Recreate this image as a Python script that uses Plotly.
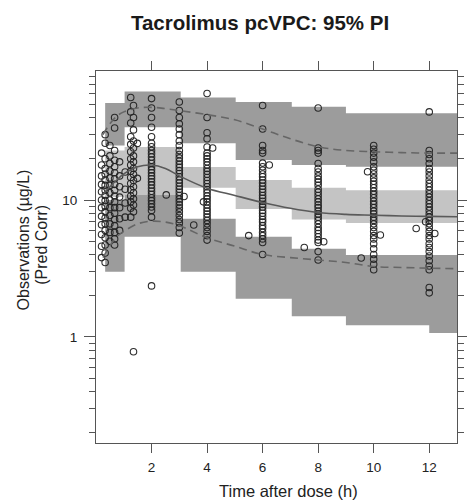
import plotly.graph_objects as go

# ---------------- data ----------------
# observations grouped by (jittered) sampling time
obs_t_020 = [22, 18, 15, 13, 11.5, 10, 8.8, 7.6, 6.6, 5.6, 4.6, 3.8]
obs_t_033 = [30, 26, 20, 17, 15.5, 14, 12.8, 11.8, 10.8, 9.9, 9, 8.2, 7.4, 6.7, 6, 5.3, 4.7, 4.1, 3.5]
obs_t_050 = [25, 21, 18.5, 16.3, 14.5, 12.8, 11.3, 10, 8.8, 7.7, 6.7, 5.8, 5]
obs_t_067 = [40, 33.6, 23, 19.5, 17.5, 15.8, 14.3, 13, 11.8, 10.7, 9.7, 8.8, 8, 7.2, 6.5, 5.8, 5.2, 4.7]
obs_t_085 = [19, 15, 12.5, 10.5, 8.8, 7.3, 6]
obs_t_105 = [16, 12, 9.5, 7.5]
obs_t_125 = [56, 44, 36.5, 29, 25.5, 22.5, 20, 18, 16.2, 14.6, 13.2, 11.9, 10.7, 9.7, 8.7, 7.5]
obs_t_135 = [49, 40, 32.5, 27, 24, 21, 19, 17, 15.4, 13.9, 12.5, 11.3, 10.2, 9.2, 8.2, 0.78]
obs_t_2 = [55, 47, 40, 34, 29, 26, 24.5, 23, 21.8, 20.6, 19.5, 18.5, 17.5, 16.6, 15.8, 15, 14.3,
           13.6, 12.9, 12.2, 11.6, 11, 10.4, 9.9, 9.4, 8.9, 8.4, 7.5, 2.36]
obs_t_3 = [52, 45, 40, 36, 33, 30, 27, 25, 23, 21.5, 20.3, 19.2, 18.2, 17.3, 16.4, 15.6, 14.8, 14,
           13.3, 12.6, 12, 11.4, 10.8, 10.2, 9.7, 9.2, 8.7, 8.2, 7.7, 7.2, 6.8, 6.3, 5.75]
obs_t_4 = [60, 40, 31, 28, 24.4, 22, 21, 20, 19, 18, 17, 16.2, 15.4, 14.6, 13.9, 13.2, 12.5, 11.9,
           11.3, 10.7, 10.2, 9.7, 9.2, 8.7, 8.3, 7.9, 7.5, 7.1, 6.7, 6.3, 5.9, 5.5, 5.1]
obs_t_6 = [49, 33, 25, 23, 22, 18.6, 17.5, 16.5, 15.5, 14.8, 14, 13.3, 12.6, 12, 11.4, 10.8, 10.3,
           9.8, 9.3, 8.9, 8.4, 8, 7.6, 7.2, 6.9, 6.5, 6.2, 5.8, 5.5, 5.2, 4.9, 4.0]
obs_t_8 = [47, 24, 23, 22, 18.5, 17, 16, 15, 14.2, 13.5, 12.8, 12, 11.4, 10.8, 10.2, 9.7, 9.2, 8.8,
           8.3, 7.9, 7.5, 7.1, 6.7, 6.3, 6, 5.7, 5.4, 5.1, 4.9, 4.2, 3.65]
obs_t_10 = [25, 23.5, 22, 20.5, 19, 17.5, 16.5, 15.5, 14.5, 13.7, 13, 12.3, 11.6, 11, 10.4, 9.8,
            9.3, 8.8, 8.3, 7.9, 7.5, 7.1, 6.7, 6.3, 5.9, 5.5, 5.2, 4.8, 4.4, 4.0, 3.7, 3.4, 3.1]
obs_t_12 = [44, 23, 21.5, 20, 18.5, 17, 16, 15, 14, 13.2, 12.5, 11.8, 11.1, 10.5, 9.9, 9.4, 8.9,
            8.4, 7.9, 7.5, 7.1, 6.7, 6.3, 5.9, 5.5, 5.2, 4.8, 4.5, 4.2, 3.9, 3.6, 3.3, 3.1, 2.3, 2.1]
obs_groups = [(0.2, obs_t_020), (0.33, obs_t_033), (0.5, obs_t_050), (0.67, obs_t_067),
              (0.85, obs_t_085), (1.05, obs_t_105), (1.25, obs_t_125), (1.35, obs_t_135),
              (2.0, obs_t_2), (3.0, obs_t_3), (4.0, obs_t_4), (6.0, obs_t_6), (8.0, obs_t_8),
              (10.0, obs_t_10), (12.0, obs_t_12)]
# scattered off-nominal observations
stray_t = [1.49, 1.49, 2.53, 3.17, 3.52, 3.87, 4.2, 5.5, 6.24, 7.5, 8.2, 9.55, 9.78, 10.24, 11.53, 11.87, 12.2]
stray_v = [25.9, 14.4, 10.9, 10.6, 6.57, 9.7, 24, 5.5, 18.0, 4.5, 4.96, 3.77, 16.1, 5.55, 6.2, 6.94, 5.7]

# prediction-interval bins (95% CI of simulated percentiles)
bin_edges = [0.33, 1.03, 3.05, 5.03, 7.05, 9.0, 12.0, 13.0]
upper_lo = [25, 34, 26, 19.6, 18, 17.5, 17.5]
upper_hi = [51, 62, 56, 52, 48, 43, 43]
median_lo = [10.5, 10.9, 12.3, 8.6, 7.2, 6.8, 6.8]
median_hi = [23, 24.4, 17.4, 14, 12.3, 11.8, 11.8]
lower_lo = [3.0, 5.4, 3.0, 1.9, 1.42, 1.22, 1.07]
lower_hi = [10, 10.9, 7.3, 5.4, 4.4, 3.97, 3.97]

# observed percentile lines
line_t = [0.25, 0.5, 0.75, 1.0, 1.5, 2, 2.5, 3, 4, 5, 6, 7, 8, 9, 10, 11, 12, 13]
obs_median = [11, 12.5, 14, 15.5, 17.5, 18, 17, 15, 12.2, 10.8, 9.6, 8.7, 8.1, 7.85, 7.75, 7.65, 7.6, 7.55]
obs_p975 = [30, 36, 41, 44, 47, 47.5, 46.5, 45, 42, 38.5, 33, 28, 24.5, 23, 22.5, 22.2, 22, 22]
obs_p025 = [3.8, 4.6, 5.4, 5.9, 6.7, 7.0, 6.9, 6.5, 5.3, 4.6, 4.0, 3.8, 3.65, 3.5, 3.27, 3.22, 3.18, 3.15]

x_ticks = [2, 4, 6, 8, 10, 12]
y_ticks = [1, 10]
y_ticktext = ["1", "10"]
y_minor = [0.2, 0.3, 0.4, 0.5, 0.6, 0.7, 0.8, 0.9, 2, 3, 4, 5, 6, 7, 8, 9, 20, 30, 40, 50, 60, 70, 80]

# ---------------- figure ----------------
DARK_BAND = "rgb(156,156,156)"
LIGHT_BAND = "rgb(196,196,196)"
AXIS = "#555555"
FONT = "Liberation Sans, Arial, Helvetica, sans-serif"

# the page body has an 8px offset; the figure is sized to the visible area
W, H = 467, 493
OFF = 8
PL, PT, PR, PB = 96 - OFF, 71 - OFF, 469 - OFF, 443 - OFF


def step_band(edges, lo, hi):
    xs, ys = [], []
    for i in range(len(hi)):
        xs += [edges[i], edges[i + 1]]
        ys += [hi[i], hi[i]]
    for i in reversed(range(len(lo))):
        xs += [edges[i + 1], edges[i]]
        ys += [lo[i], lo[i]]
    return xs, ys


fig = go.Figure()
for lo, hi, col in [(upper_lo, upper_hi, DARK_BAND), (lower_lo, lower_hi, DARK_BAND),
                    (median_lo, median_hi, LIGHT_BAND)]:
    bx, by = step_band(bin_edges, lo, hi)
    fig.add_trace(go.Scatter(x=bx, y=by, mode="lines", fill="toself", fillcolor=col,
                             line=dict(width=0), hoverinfo="skip", showlegend=False))

px, py = [], []
for t, vals in obs_groups:
    px += [t] * len(vals)
    py += vals
px += stray_t
py += stray_v
fig.add_trace(go.Scatter(x=px, y=py, mode="markers", showlegend=False,
                         marker=dict(symbol="circle-open", size=6.5, color="rgba(35,35,35,0.95)",
                                     line=dict(width=1.1))))

fig.add_trace(go.Scatter(x=line_t, y=obs_median, mode="lines", line_shape="spline",
                         line=dict(color="#5a5a5a", width=1.6), showlegend=False))
for yy in (obs_p975, obs_p025):
    fig.add_trace(go.Scatter(x=line_t, y=yy, mode="lines", line_shape="spline",
                             line=dict(color="#666666", width=1.6, dash="8px,5px"),
                             showlegend=False))

pw, ph = PR - PL, PB - PT
fig.update_layout(
    width=W, height=H,
    margin=dict(l=PL, r=W - PR, t=PT, b=H - PB),
    paper_bgcolor="white", plot_bgcolor="white",
    font=dict(family=FONT, color="#222222"),
    showlegend=False,
    title=dict(text="Tacrolimus pcVPC: 95% PI", x=(260 - OFF) / W, xanchor="center",
               xref="container", y=1 - (23 - OFF) / H, yanchor="middle", yref="container",
               font=dict(size=20.5, family=FONT, color="#1a1a1a", weight="bold")),
)
fig.update_xaxes(range=[0, 13], tickvals=x_ticks, ticks="outside", ticklen=9, tickwidth=1,
                 tickcolor=AXIS, showline=True, linecolor=AXIS, linewidth=1, mirror="ticks",
                 showgrid=False, zeroline=False, tickfont=dict(size=13.5, color="#222222"),
                 ticklabelstandoff=3)
fig.update_yaxes(type="log", range=[-0.774, 1.942], tickmode="array", tickvals=y_ticks,
                 ticktext=y_ticktext, ticks="outside", ticklen=11, tickwidth=1, tickcolor=AXIS,
                 showline=True, linecolor=AXIS, linewidth=1, mirror="ticks", showgrid=False,
                 zeroline=False, tickfont=dict(size=13.5, color="#222222"), ticklabelstandoff=4,
                 minor=dict(tickmode="array", tickvals=y_minor, ticks="outside", ticklen=6,
                            tickcolor=AXIS, showgrid=False))

fig.add_annotation(text="Time after dose (h)", xref="paper", yref="paper",
                   x=(295 - OFF - PL) / pw, y=(PB - (491 - OFF)) / ph, xanchor="center",
                   yanchor="middle", showarrow=False,
                   font=dict(size=16.5, family=FONT, color="#222222"))
fig.add_annotation(text="Observations (µg/L)", xref="paper", yref="paper",
                   x=(21 - OFF - PL) / pw, y=(PB - (240 - OFF)) / ph, xanchor="center",
                   yanchor="middle", textangle=-90, showarrow=False,
                   font=dict(size=16, family=FONT, color="#222222"))
fig.add_annotation(text="(Pred Corr)", xref="paper", yref="paper",
                   x=(39 - OFF - PL) / pw, y=(PB - (245 - OFF)) / ph, xanchor="center",
                   yanchor="middle", textangle=-90, showarrow=False,
                   font=dict(size=16, family=FONT, color="#222222"))

fig.write_html("out.html")
